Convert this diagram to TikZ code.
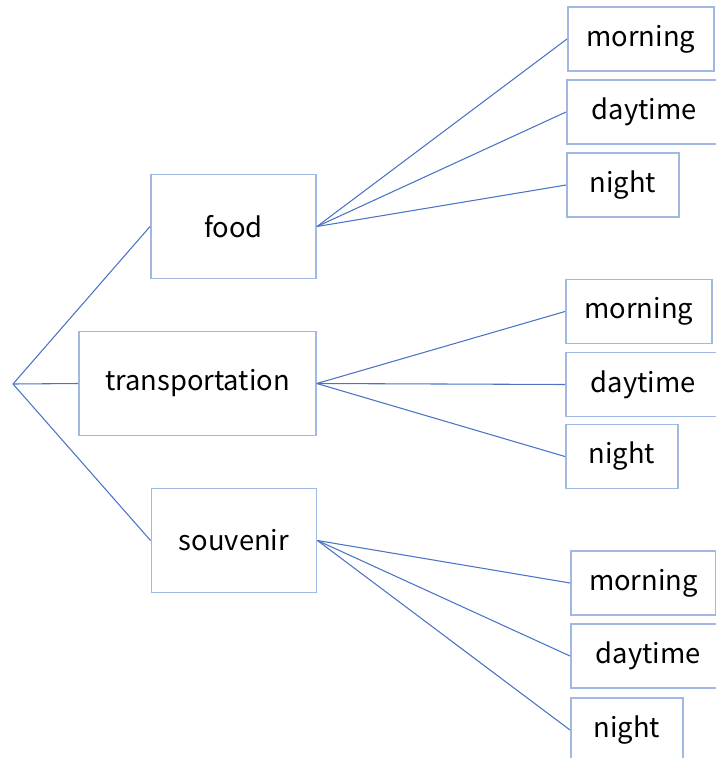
\documentclass[tikz,border=0pt]{standalone}
\usepackage{fontspec}
\setmainfont{Noto Sans CJK JP}
\usetikzlibrary{positioning}
\definecolor{boxblue}{RGB}{160,184,226}
\definecolor{lineblue}{RGB}{76,116,198}
\tikzset{every picture/.style={/utils/exec={\fontsize{20.5}{24}\selectfont}}}

\begin{document}
\begin{tikzpicture}[x=0.75pt,y=-0.75pt]
  \tikzstyle{topic} = [rectangle, draw=boxblue, line width=1.2pt, minimum height=78pt, text centered, inner sep=0pt]
  \tikzstyle{leaf} = [rectangle, draw=boxblue, line width=1.2pt, minimum height=48pt, text centered, inner sep=0pt, anchor=west]
  \tikzstyle{branch} = [draw=lineblue, line width=0.8pt]

  \useasboundingbox (0,0) rectangle (716,758);

  \coordinate (root) at (13,384);

  \node (food) [topic, minimum width=124pt] at (233.5,226.5) {food};
  \node (trans) [topic, minimum width=177.75pt] at (197.5,383.5) {transportation};
  \node (souv) [topic, minimum width=124pt] at (234,540.5) {souvenir};

  % food
  \node (fmorn) [leaf, minimum width=109.5pt] at (567,39) {morning};
  \node (fday) [leaf, minimum width=116pt] at (566,112) {daytime};
  \node (fnight) [leaf, minimum width=84pt] at (566,185) {night};
  % transportation
  \node (tmorn) [leaf, minimum width=109.5pt] at (565,311.5) {morning};
  \node (tday) [leaf, minimum width=116pt] at (565,384.5) {daytime};
  \node (tnight) [leaf, minimum width=84pt] at (565,456.5) {night};
  % souvenir
  \node (smorn) [leaf, minimum width=109pt] at (570,583) {morning};
  \node (sday) [leaf, minimum width=116pt] at (570,656) {daytime};
  \node (snight) [leaf, minimum width=84pt] at (570,730) {night};

  \draw [branch] (root) -- (food.west);
  \draw [branch] (root) -- (trans.west);
  \draw [branch] (root) -- (souv.west);

  \draw [branch] (food.east) -- (fmorn.west);
  \draw [branch] (food.east) -- (fday.west);
  \draw [branch] (food.east) -- (fnight.west);
  \draw [branch] (trans.east) -- (tmorn.west);
  \draw [branch] (trans.east) -- (tday.west);
  \draw [branch] (trans.east) -- (tnight.west);
  \draw [branch] (souv.east) -- (smorn.west);
  \draw [branch] (souv.east) -- (sday.west);
  \draw [branch] (souv.east) -- (snight.west);
\end{tikzpicture}
\end{document}
